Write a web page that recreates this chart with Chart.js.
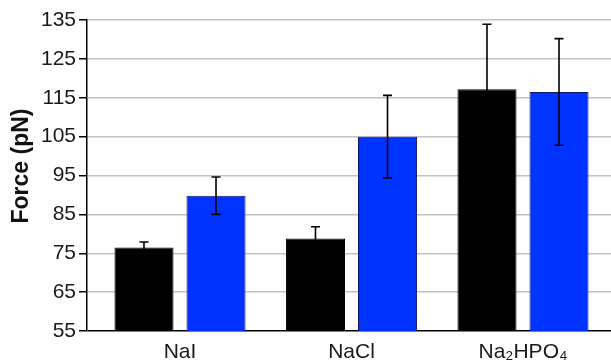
<!DOCTYPE html>
<html>
<head>
<meta charset="utf-8">
<script src="https://cdn.jsdelivr.net/npm/chart.js@4/dist/chart.umd.min.js"></script>
<style>
  html, body { margin: 0; padding: 0; background: #ffffff; }
  canvas { display: block; }
</style>
</head>
<body>
<canvas id="forceChart" width="611" height="363"></canvas>
<script>
// Salt conditions along the category axis
const categories = ['NaI', 'NaCl', 'Na₂HPO₄'];

// Mean force (pN) and standard deviation for each of the two series
const seriesBlack = [76.5, 78.8, 117.2];
const seriesBlackErr = [1.4, 3.0, 16.7];
const seriesBlue = [89.8, 105.0, 116.5];
const seriesBlueErr = [4.8, 10.6, 13.7];

// Value axis
const yMin = 55;
const yMax = 135;
const yStep = 10;
const yTitle = 'Force (pN)';

const FONT = '"Liberation Sans", Arial, Helvetica, sans-serif';

// Error bars: a vertical whisker with a short cap at both ends
const errorBars = {
  id: 'errorBars',
  afterDatasetsDraw(chart) {
    const { ctx } = chart;
    const yScale = chart.scales.y;
    chart.data.datasets.forEach((ds, di) => {
      const meta = chart.getDatasetMeta(di);
      meta.data.forEach((bar, i) => {
        const v = ds.data[i];
        const e = ds.errors[i];
        const x = bar.x;
        const yHi = yScale.getPixelForValue(v + e);
        const yLo = yScale.getPixelForValue(v - e);
        const cap = 4.5;
        ctx.save();
        ctx.strokeStyle = '#000000';
        ctx.lineWidth = 1.6;
        ctx.beginPath();
        ctx.moveTo(x, yHi); ctx.lineTo(x, yLo);
        ctx.moveTo(x - cap, yHi); ctx.lineTo(x + cap, yHi);
        ctx.moveTo(x - cap, yLo); ctx.lineTo(x + cap, yLo);
        ctx.stroke();
        ctx.restore();
      });
    });
  }
};

// The category band starts a few pixels inside the value axis line
const categoryInset = {
  id: 'categoryInset',
  afterLayout(chart) {
    const x = chart.scales.x;
    const area = chart.chartArea;
    x.left = area.left + 7.25;
    x.right = area.right - 2.25;
    x.width = x.right - x.left;
    x.configure();
  }
};

// Rotated value-axis title
const axisTitle = {
  id: 'axisTitle',
  afterDraw(chart) {
    const { ctx } = chart;
    ctx.save();
    ctx.translate(22, 166);
    ctx.rotate(-Math.PI / 2);
    ctx.font = 'bold 23px ' + FONT;
    ctx.fillStyle = '#111111';
    ctx.textAlign = 'center';
    ctx.textBaseline = 'middle';
    ctx.fillText(yTitle, 0, 0);
    ctx.restore();
  }
};

new Chart(document.getElementById('forceChart'), {
  type: 'bar',
  data: {
    labels: categories,
    datasets: [
      {
        label: 'Series 1',
        data: seriesBlack,
        errors: seriesBlackErr,
        backgroundColor: '#000000',
        borderColor: '#000000',
        borderWidth: 1
      },
      {
        label: 'Series 2',
        data: seriesBlue,
        errors: seriesBlueErr,
        backgroundColor: '#0033ff',
        borderColor: '#14146a',
        borderWidth: 1
      }
    ]
  },
  options: {
    responsive: false,
    devicePixelRatio: 1,
    animation: false,
    layout: { padding: { top: 20, right: 0, bottom: 0, left: 0 } },
    datasets: {
      bar: { categoryPercentage: 0.84, barPercentage: 0.82 }
    },
    plugins: {
      legend: { display: false },
      tooltip: { enabled: false },
      title: { display: false }
    },
    scales: {
      x: {
        grid: { display: false, drawTicks: false },
        border: { display: false },
        ticks: {
          padding: 9,
          color: '#1a1a1a',
          font: { family: FONT, size: 21 }
        },
        afterFit(scale) { scale.height = 32; }
      },
      y: {
        min: yMin,
        max: yMax,
        ticks: {
          stepSize: yStep,
          padding: 3,
          color: '#1a1a1a',
          font: { family: FONT, size: 21 }
        },
        grid: {
          color: (c) => (c.tick && c.tick.value === yMin ? '#000000' : '#c2c2c2'),
          lineWidth: 1.5,
          tickColor: '#000000',
          tickLength: 8,
          drawTicks: true
        },
        border: { display: true, color: '#000000', width: 1.5 },
        afterFit(scale) { scale.width = 87; }
      }
    }
  },
  plugins: [categoryInset, errorBars, axisTitle]
});
</script>
</body>
</html>
